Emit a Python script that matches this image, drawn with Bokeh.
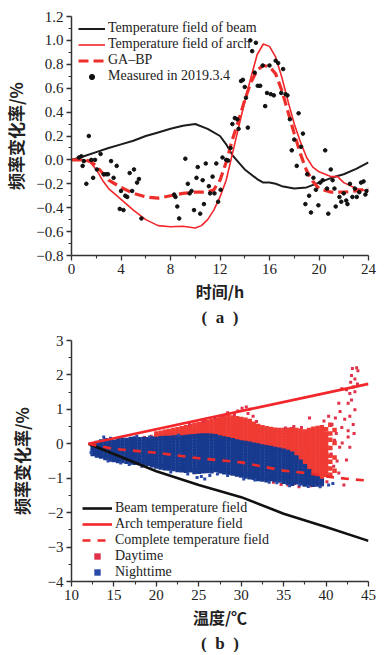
from bokeh.plotting import figure
from bokeh.layouts import column
from bokeh.models import Range1d, FixedTicker, CustomJSTickFormatter, Legend, LegendItem, Title
from bokeh.embed import file_html
from bokeh.resources import INLINE

SERIF = "Liberation Serif"
CJK = "Noto Sans CJK SC"

# ---------------- (a) data ----------------
beam_hours = [0, 1, 2, 3, 4, 5, 6, 7, 8, 9, 10, 11, 12, 12.5, 13, 13.5, 14, 15, 15.5, 16, 16.5, 17, 18, 19, 20, 21, 22, 23, 24]
beam_a = [0, 0.03, 0.065, 0.1, 0.13, 0.16, 0.2, 0.23, 0.26, 0.285, 0.30, 0.26, 0.2, 0.13, 0.04, -0.02, -0.08, -0.16, -0.19,
          -0.19, -0.2, -0.22, -0.24, -0.23, -0.19, -0.15, -0.12, -0.075, -0.02]

arch_hours = [0, 1, 1.5, 2, 2.5, 3, 4, 5, 6, 7, 8, 9, 10, 10.5, 11, 11.5, 12, 12.5, 13, 13.5, 14, 14.5, 15, 15.5, 16, 16.5,
              17, 17.5, 18, 18.5, 19, 19.5, 20, 21, 21.5, 22, 23, 24]
arch_a = [0, 0, -0.02, -0.08, -0.17, -0.24, -0.33, -0.42, -0.5, -0.55, -0.56, -0.555, -0.57, -0.55, -0.5, -0.42, -0.31,
          -0.17, 0.05, 0.27, 0.49, 0.69, 0.88, 0.97, 0.95, 0.86, 0.69, 0.49, 0.30, 0.15, 0.02, -0.06, -0.1, -0.14, -0.14,
          -0.19, -0.24, -0.26]

ga_hours = [0, 1, 1.5, 2, 2.5, 3, 4, 5, 6, 7, 8, 9, 10, 11, 11.5, 12, 12.5, 13, 13.5, 14, 14.5, 15, 15.5, 16, 16.5, 17,
            17.5, 18, 18.5, 19, 19.5, 20, 21, 22, 23, 24]
ga_bp = [0, 0, -0.01, -0.05, -0.11, -0.17, -0.23, -0.28, -0.31, -0.32, -0.3, -0.28, -0.27, -0.27, -0.25, -0.17, -0.02,
         0.17, 0.33, 0.5, 0.65, 0.75, 0.79, 0.78, 0.72, 0.58, 0.4, 0.22, 0.05, -0.09, -0.18, -0.24, -0.27, -0.27, -0.26,
         -0.24]

meas_t = [0.6, 0.8, 0.9, 1.0, 1.2, 1.4, 1.6, 1.75, 1.9, 2.05, 2.35, 2.6, 2.8, 2.95, 3.2, 3.4, 3.65, 3.9, 4.0, 4.2, 4.35,
          4.5, 4.7, 4.9, 5.05, 5.3, 5.45, 5.65, 8.3, 8.4, 8.55, 8.7, 9.2, 9.4, 9.55, 9.7, 9.9, 10.1, 10.2, 10.4, 10.6,
          10.7, 10.85, 11.1, 11.2, 11.4, 11.55, 11.7, 11.85, 12.05, 12.2, 12.5, 12.65, 12.85, 13.0, 13.2, 13.4, 13.5,
          13.7, 13.85, 14.0, 14.1, 14.25, 14.45, 14.6, 14.8, 14.9, 15.05, 15.25, 15.45, 15.65, 15.8, 16.0, 16.1, 16.35,
          16.5, 16.7, 16.95, 17.1, 17.3, 17.45, 17.65, 17.8, 18.0, 18.2, 18.35, 18.55, 18.7, 18.9, 19.05, 19.2, 19.35,
          19.55, 19.75, 19.95, 20.1, 20.3, 20.5, 20.65, 20.75, 20.95, 21.1, 21.25, 21.35, 21.65, 21.8, 22.0, 22.2, 22.3,
          22.5, 22.7, 22.9, 23.05, 23.25, 23.4, 23.6, 23.75, 23.85]
meas_v = [0.02, 0.03, -0.05, -0.01, -0.2, 0.2, 0.0, -0.15, 0.0, -0.08, 0.05, -0.12, -0.12, -0.12, -0.01, -0.15, -0.05,
          -0.41, -0.26, -0.42, -0.30, -0.31, -0.11, -0.26, -0.08, -0.19, -0.16, -0.49, -0.29, -0.31, -0.39, -0.49, 0.01,
          -0.2, -0.28, -0.26, -0.42, -0.15, -0.06, -0.45, -0.17, -0.37, -0.03, -0.22, -0.28, -0.14, -0.28, -0.03, -0.35,
          -0.25, 0.02, 0.0, -0.005, 0.1, 0.30, 0.35, 0.34, 0.26, 0.66, 0.67, 0.61, 0.52, 0.27, 1.0, 0.91, 0.73, 0.98,
          0.62, 0.62, 0.79, 0.45, 0.56, 0.79, 0.55, 0.54, 0.83, 0.81, 0.56, 0.76, 0.55, 0.54, 0.34, 0.08, 0.17, -0.05,
          0.39, 0.11, 0.22, -0.37, -0.12, -0.30, -0.44, -0.15, -0.25, -0.38, -0.19, -0.17, 0.08, -0.24, -0.45, -0.08,
          -0.17, -0.24, -0.39, -0.31, -0.35, -0.28, -0.34, -0.37, -0.2, -0.31, -0.24, -0.31, -0.27, -0.19, -0.18, -0.29,
          -0.26]

a_xticks = [0, 4, 8, 12, 16, 20, 24]
a_yticks = [-0.8, -0.6, -0.4, -0.2, 0.0, 0.2, 0.4, 0.6, 0.8, 1.0, 1.2]

# ---------------- (b) data ----------------
temp_lines = [12, 20, 25, 30, 35, 40, 45]
beam_b = [0, -0.8, -1.2, -1.55, -2.03, -2.42, -2.82]
arch_temp = [12, 45]
arch_b = [0, 1.74]
complete_temp = [12, 15, 20, 25, 30, 35, 38, 40, 43, 45]
complete_b = [0, -0.15, -0.26, -0.42, -0.54, -0.78, -0.86, -0.95, -1.03, -1.07]

# dense night-time cloud, read column by column (temperature: values)
night_cols = {
    12.5: [-0.03, -0.12, -0.21, -0.3],
    13: [0.02, -0.07, -0.16, -0.25, -0.34],
    13.5: [0.07, -0.02, -0.11, -0.2, -0.29, -0.37],
    14: [0.1, 0.01, -0.08, -0.17, -0.26, -0.35, -0.41],
    14.5: [0.05, -0.04, -0.13, -0.22, -0.31, -0.4, -0.46],
    15: [0.06, -0.03, -0.12, -0.21, -0.3, -0.39, -0.47],
    15.5: [0.1, 0.01, -0.08, -0.17, -0.26, -0.35, -0.44, -0.5],
    16: [0.12, 0.03, -0.06, -0.15, -0.24, -0.33, -0.42, -0.5],
    16.5: [0.11, 0.02, -0.07, -0.16, -0.25, -0.34, -0.43, -0.52],
    17: [0.14, 0.05, -0.04, -0.13, -0.22, -0.31, -0.4, -0.48, -0.54],
    17.5: [0.15, 0.06, -0.03, -0.12, -0.21, -0.3, -0.39, -0.48, -0.55],
    18: [0.13, 0.04, -0.05, -0.14, -0.23, -0.32, -0.41, -0.5, -0.56],
    18.5: [0.14, 0.05, -0.04, -0.13, -0.22, -0.31, -0.4, -0.49, -0.57],
    19: [0.13, 0.04, -0.05, -0.14, -0.23, -0.32, -0.41, -0.5, -0.58],
    19.5: [0.15, 0.06, -0.03, -0.12, -0.21, -0.3, -0.39, -0.48, -0.56, -0.62],
    20: [0.14, 0.05, -0.04, -0.13, -0.22, -0.31, -0.4, -0.49, -0.58, -0.66],
    20.5: [0.16, 0.07, -0.02, -0.11, -0.2, -0.29, -0.38, -0.47, -0.56, -0.64, -0.69],
    21: [0.17, 0.08, -0.01, -0.1, -0.19, -0.28, -0.37, -0.46, -0.55, -0.63, -0.71],
    21.5: [0.17, 0.08, -0.01, -0.1, -0.19, -0.28, -0.37, -0.46, -0.55, -0.64, -0.72],
    22: [0.18, 0.09, 0.0, -0.09, -0.18, -0.27, -0.36, -0.45, -0.54, -0.63, -0.73],
    22.5: [0.19, 0.1, 0.01, -0.08, -0.17, -0.26, -0.35, -0.44, -0.53, -0.62, -0.7, -0.76],
    23: [0.18, 0.09, 0.0, -0.09, -0.18, -0.27, -0.36, -0.45, -0.54, -0.63, -0.71, -0.77],
    23.5: [0.2, 0.11, 0.02, -0.07, -0.16, -0.25, -0.34, -0.43, -0.52, -0.61, -0.7, -0.78],
    24: [0.21, 0.12, 0.03, -0.06, -0.15, -0.24, -0.33, -0.42, -0.51, -0.6, -0.69, -0.77],
    24.5: [0.22, 0.13, 0.04, -0.05, -0.14, -0.23, -0.32, -0.41, -0.5, -0.59, -0.68, -0.76, -0.82],
    25: [0.23, 0.14, 0.05, -0.04, -0.13, -0.22, -0.31, -0.4, -0.49, -0.58, -0.67, -0.75, -0.81],
    25.5: [0.24, 0.15, 0.06, -0.03, -0.12, -0.21, -0.3, -0.39, -0.48, -0.57, -0.66, -0.74, -0.8],
    26: [0.24, 0.15, 0.06, -0.03, -0.12, -0.21, -0.3, -0.39, -0.48, -0.57, -0.66, -0.73, -0.79],
    26.5: [0.23, 0.14, 0.05, -0.04, -0.13, -0.22, -0.31, -0.4, -0.49, -0.58, -0.67, -0.74, -0.8],
    27: [0.22, 0.13, 0.04, -0.05, -0.14, -0.23, -0.32, -0.41, -0.5, -0.59, -0.68, -0.76],
    27.5: [0.18, 0.09, 0.0, -0.09, -0.18, -0.27, -0.36, -0.45, -0.54, -0.63, -0.72, -0.8],
    28: [0.15, 0.06, -0.03, -0.12, -0.21, -0.3, -0.39, -0.48, -0.57, -0.66, -0.75, -0.83],
    28.5: [0.13, 0.04, -0.05, -0.14, -0.23, -0.32, -0.41, -0.5, -0.59, -0.68, -0.77, -0.84],
    29: [0.1, 0.01, -0.08, -0.17, -0.26, -0.35, -0.44, -0.53, -0.62, -0.71, -0.8, -0.86],
    29.5: [0.07, -0.02, -0.11, -0.2, -0.29, -0.38, -0.47, -0.56, -0.65, -0.74, -0.83, -0.89],
    30: [0.04, -0.05, -0.14, -0.23, -0.32, -0.41, -0.5, -0.59, -0.68, -0.77, -0.86, -0.92],
    30.5: [0.02, -0.07, -0.16, -0.25, -0.34, -0.43, -0.52, -0.61, -0.7, -0.79, -0.88, -0.95],
    31: [0.0, -0.09, -0.18, -0.27, -0.36, -0.45, -0.54, -0.63, -0.72, -0.81, -0.9, -0.97],
    31.5: [-0.03, -0.12, -0.21, -0.3, -0.39, -0.48, -0.57, -0.66, -0.75, -0.84, -0.93, -0.99],
    32: [-0.05, -0.14, -0.23, -0.32, -0.41, -0.5, -0.59, -0.68, -0.77, -0.86, -0.95, -1.02],
    32.5: [-0.08, -0.17, -0.26, -0.35, -0.44, -0.53, -0.62, -0.71, -0.8, -0.89, -0.98, -1.04],
    33: [-0.1, -0.19, -0.28, -0.37, -0.46, -0.55, -0.64, -0.73, -0.82, -0.91, -1.0, -1.06],
    33.5: [-0.12, -0.21, -0.3, -0.39, -0.48, -0.57, -0.66, -0.75, -0.84, -0.93, -1.02],
    34: [-0.15, -0.24, -0.33, -0.42, -0.51, -0.6, -0.69, -0.78, -0.87, -0.96, -1.05],
    34.5: [-0.17, -0.26, -0.35, -0.44, -0.53, -0.62, -0.71, -0.8, -0.89, -0.98, -1.07],
    35: [-0.2, -0.29, -0.38, -0.47, -0.56, -0.65, -0.74, -0.83, -0.92, -1.01, -1.1],
    35.5: [-0.24, -0.33, -0.42, -0.51, -0.6, -0.69, -0.78, -0.87, -0.96, -1.05, -1.13],
    36: [-0.29, -0.38, -0.47, -0.56, -0.65, -0.74, -0.83, -0.92, -1.01, -1.1, -1.16],
    36.5: [-0.4, -0.49, -0.58, -0.67, -0.76, -0.85, -0.94, -1.03, -1.12],
    37: [-0.52, -0.61, -0.7, -0.79, -0.88, -0.97, -1.06, -1.14],
    37.5: [-0.65, -0.74, -0.83, -0.92, -1.01, -1.1, -1.18],
    38: [-0.8, -0.89, -0.98, -1.07, -1.16],
    38.5: [-0.92, -1.01, -1.1, -1.19],
    39: [-1.0, -1.09, -1.18],
    39.5: [-1.08, -1.17],
}
# scattered night-time points at the cloud's edges
night_edge_t = [12.3, 13.8, 14.3, 14.6, 15.8, 16.8, 17.7, 18.3, 19.2, 21.7, 22.6, 23.7, 24.8, 25.3, 25.7, 26.3, 27.2,
                28.4, 30.3, 31.6, 33.3, 34.2, 35.7, 36.9, 37.9, 39.3, 40.3, 40.8]
night_edge_v = [-0.25, 0.2, -0.5, 0.16, -0.56, -0.6, 0.22, -0.65, 0.2, -0.82, 0.25, -0.88, -0.98, -0.95, -1.02, -0.92,
                -0.88, -0.92, -1.02, -1.05, -1.12, -1.13, -1.22, -1.2, -1.24, -1.25, -1.2, -1.15]

# dense day-time cloud (visible part above the night-time cloud)
day_cols = {
    20: [0.3, 0.22, 0.15],
    20.5: [0.32, 0.24, 0.17],
    21: [0.35, 0.27, 0.19],
    21.5: [0.37, 0.29, 0.21],
    22: [0.4, 0.32, 0.24, 0.18],
    22.5: [0.42, 0.34, 0.26, 0.19],
    23: [0.45, 0.37, 0.29, 0.21],
    23.5: [0.48, 0.4, 0.32, 0.24],
    24: [0.52, 0.44, 0.36, 0.28, 0.22],
    24.5: [0.55, 0.47, 0.39, 0.31, 0.24],
    25: [0.57, 0.49, 0.41, 0.33, 0.25],
    25.5: [0.6, 0.52, 0.44, 0.36, 0.28],
    26: [0.63, 0.55, 0.47, 0.39, 0.31, 0.25],
    26.5: [0.66, 0.58, 0.5, 0.42, 0.34, 0.27],
    27: [0.68, 0.6, 0.52, 0.44, 0.36, 0.3, 0.24],
    27.5: [0.72, 0.64, 0.56, 0.48, 0.4, 0.32, 0.24, 0.2],
    28: [0.76, 0.68, 0.6, 0.52, 0.44, 0.36, 0.28, 0.2, 0.17],
    28.5: [0.77, 0.69, 0.61, 0.53, 0.45, 0.37, 0.29, 0.21, 0.14],
    29: [0.76, 0.68, 0.6, 0.52, 0.44, 0.36, 0.28, 0.2, 0.12],
    29.5: [0.74, 0.66, 0.58, 0.5, 0.42, 0.34, 0.26, 0.18, 0.1],
    30: [0.72, 0.64, 0.56, 0.48, 0.4, 0.32, 0.24, 0.16, 0.08, 0.03],
    30.5: [0.7, 0.62, 0.54, 0.46, 0.38, 0.3, 0.22, 0.14, 0.06, 0.02],
    31: [0.66, 0.58, 0.5, 0.42, 0.34, 0.26, 0.18, 0.1, 0.03, -0.01],
    31.5: [0.58, 0.5, 0.42, 0.34, 0.26, 0.18, 0.1, 0.02, -0.04],
    32: [0.52, 0.44, 0.36, 0.28, 0.2, 0.12, 0.04, -0.04],
    32.5: [0.48, 0.4, 0.32, 0.24, 0.16, 0.08, 0.0, -0.08],
    33: [0.45, 0.37, 0.29, 0.21, 0.13, 0.05, -0.03, -0.1],
    33.5: [0.43, 0.35, 0.27, 0.19, 0.11, 0.03, -0.05, -0.12],
    34: [0.41, 0.33, 0.25, 0.17, 0.09, 0.01, -0.07, -0.14],
    34.5: [0.4, 0.32, 0.24, 0.16, 0.08, 0.0, -0.08, -0.16],
    35: [0.4, 0.32, 0.24, 0.16, 0.08, 0.0, -0.08, -0.16, -0.2],
    35.5: [0.41, 0.33, 0.25, 0.17, 0.09, 0.01, -0.07, -0.15, -0.23],
    36: [0.42, 0.34, 0.26, 0.18, 0.1, 0.02, -0.06, -0.14, -0.22, -0.3],
    36.5: [0.4, 0.32, 0.24, 0.16, 0.08, 0.0, -0.08, -0.16, -0.24, -0.32, -0.4],
    37: [0.38, 0.3, 0.22, 0.14, 0.06, -0.02, -0.1, -0.18, -0.26, -0.34, -0.42, -0.5],
    37.5: [0.36, 0.28, 0.2, 0.12, 0.04, -0.04, -0.12, -0.2, -0.28, -0.36, -0.44, -0.52, -0.6],
    38: [0.4, 0.32, 0.24, 0.16, 0.08, 0.0, -0.08, -0.16, -0.24, -0.32, -0.4, -0.48, -0.56, -0.64, -0.72, -0.8],
    38.5: [0.44, 0.36, 0.28, 0.2, 0.12, 0.04, -0.04, -0.12, -0.2, -0.28, -0.36, -0.44, -0.52, -0.6, -0.68, -0.76,
           -0.84, -0.92],
    39: [0.46, 0.38, 0.3, 0.22, 0.14, 0.06, -0.02, -0.1, -0.18, -0.26, -0.34, -0.42, -0.5, -0.58, -0.66, -0.74,
         -0.82, -0.9, -0.98],
    39.5: [0.48, 0.4, 0.32, 0.24, 0.16, 0.08, 0.0, -0.08, -0.16, -0.24, -0.32, -0.4, -0.48, -0.56, -0.64, -0.72,
           -0.8, -0.88, -0.96, -1.04],
    40: [0.42, 0.3, 0.2, 0.1, 0.0, -0.1, -0.2, -0.3, -0.4, -0.5, -0.6, -0.7, -0.8, -0.9],
    40.5: [0.55, 0.3, 0.12, -0.12, -0.35, -0.52, -0.72, -0.9],
    41: [0.4, 0.02, -0.4, -0.78],
}
# scattered day-time points
day_edge_t = [43.1, 43.6, 43.75, 43.0, 43.4, 42.9, 43.7, 43.2, 42.4, 41.85, 42.8, 43.4, 43.0, 42.6, 43.4, 41.5, 41.65,
              42.8, 42.2, 41.1, 40.7, 43.2, 41.85, 42.6, 38.05, 39.75, 40.3, 41.2, 41.6, 41.9, 42.4, 42.8, 41.5, 42.1,
              41.3, 42.6, 43.3, 40.6, 40.9, 41.0, 40.5, 28.4, 29.6, 30.1, 30.6, 31.0, 30.8, 29.2, 27.8, 26.9, 31.4,
              31.8, 25.6, 23.9, 35.5, 36.3, 36.8, 37.4, 38.2, 38.8, 39.4, 40.1, 33.8, 34.7, 14.2, 15.6, 17.1, 18.6,
              19.4, 36.2, 37.1, 35.2]
day_edge_v = [2.19, 2.21, 2.12, 1.98, 1.88, 1.79, 1.74, 1.65, 1.57, 1.6, 1.46, 1.51, 1.27, 1.18, 0.99, 1.18, 0.94,
              0.8, 0.71, 0.75, 0.56, 0.56, 0.47, 0.38, 0.75, 0.66, 0.8, 0.3, -0.1, 0.02, -0.47, -0.1, -0.85, -1.2,
              -0.5, 0.2, 0.3, -0.3, -0.65, 0.1, -0.95, 0.9, 0.95, 1.03, 1.07, 1.0, 0.88, 0.85, 0.82, 0.75, 0.8, 0.65,
              0.66, 0.56, -1.2, -1.15, -1.25, -1.18, -1.22, -1.12, -1.2, -1.1, -1.12, -1.18, -0.05, -0.12, 0.1, 0.18,
              0.22, 0.5, 0.47, 0.46]

b_xticks = [10, 15, 20, 25, 30, 35, 40, 45]
b_yticks = [-4, -3, -2, -1, 0, 1, 2, 3]

night_t = [t for t, vs in night_cols.items() for _ in vs]
night_v = [v for vs in night_cols.values() for v in vs]
day_t = [t for t, vs in day_cols.items() for _ in vs]
day_v = [v for vs in day_cols.values() for v in vs]


def style_axes(p, xlabel, ylabel, xt, yt, ydigits):
    p.outline_line_color = None
    p.grid.visible = False
    p.background_fill_color = "white"
    p.border_fill_color = "white"
    for ax in (p.xaxis[0], p.yaxis[0]):
        ax.axis_line_color = "#333333"
        ax.axis_line_width = 1.5
        ax.major_tick_line_color = "#333333"
        ax.major_tick_line_width = 1.3
        ax.minor_tick_line_color = "#333333"
        ax.minor_tick_line_width = 1.1
        ax.major_tick_in = 0
        ax.major_tick_out = 5
        ax.minor_tick_in = 0
        ax.minor_tick_out = 3
        ax.major_label_text_font = SERIF
        ax.major_label_text_font_size = "15px"
        ax.major_label_text_color = "#222222"
        ax.major_label_standoff = 3
        ax.axis_label_text_font = CJK
        ax.axis_label_text_font_style = "bold"
        ax.axis_label_text_font_size = "16px"
        ax.axis_label_text_color = "#222222"
    p.yaxis[0].axis_label_text_font_size = "17px"
    minor_x = [(a + b) / 2 for a, b in zip(xt[:-1], xt[1:])]
    minor_y = [(a + b) / 2 for a, b in zip(yt[:-1], yt[1:])]
    p.xaxis[0].ticker = FixedTicker(ticks=xt, minor_ticks=minor_x)
    p.yaxis[0].ticker = FixedTicker(ticks=yt, minor_ticks=minor_y)
    p.xaxis[0].axis_label = xlabel
    p.yaxis[0].axis_label = ylabel
    p.xaxis[0].axis_label_standoff = 2
    p.yaxis[0].axis_label_standoff = 5
    p.yaxis[0].formatter = CustomJSTickFormatter(
        code="return tick.toFixed(%d).replace('-', '\\u2212')" % ydigits)
    p.xaxis[0].formatter = CustomJSTickFormatter(code="return tick.toFixed(0)")


# ---------------- figure (a) ----------------
pa = figure(width=387, height=326, x_range=Range1d(0, 24), y_range=Range1d(-0.8, 1.2),
            output_backend="svg", toolbar_location=None,
            min_border_left=70, min_border_right=19, min_border_top=16, min_border_bottom=70)
style_axes(pa, "时间/h", "频率变化率/%", a_xticks, a_yticks, 1)

r_beam = pa.line(beam_hours, beam_a, line_color="#1c1c1c", line_width=2)
r_arch = pa.line(arch_hours, arch_a, line_color="#f2262b", line_width=1.6)
r_ga = pa.line(ga_hours, ga_bp, line_color="#ee2e2a", line_width=3.2, line_dash="10 5")
r_meas = pa.scatter(meas_t, meas_v, size=3.6, marker="circle", fill_color="#111111", line_color="#111111")

leg_a = Legend(items=[
    LegendItem(label="Temperature field of beam", renderers=[r_beam]),
    LegendItem(label="Temperature field of arch", renderers=[r_arch]),
    LegendItem(label="GA\u2013BP", renderers=[r_ga]),
    LegendItem(label="Measured in 2019.3.4", renderers=[r_meas]),
], location=(7, 171), margin=0, padding=0, spacing=0, glyph_width=27, glyph_height=13, label_height=13,
    label_standoff=3, label_text_font=SERIF, label_text_font_size="14px", label_text_color="#222222",
    border_line_alpha=0, background_fill_alpha=0)
pa.add_layout(leg_a)
pa.add_layout(Title(text="(\u2002a\u2002)", align="center", text_font=SERIF, text_font_size="17px",
                    text_font_style="bold", text_color="#222222", standoff=0), "below")

# ---------------- figure (b) ----------------
pb = figure(width=387, height=326, x_range=Range1d(10, 45), y_range=Range1d(-4, 3),
            output_backend="svg", toolbar_location=None,
            min_border_left=71, min_border_right=10, min_border_top=14, min_border_bottom=70)
style_axes(pb, "温度/℃", "频率变化率/%", b_xticks, b_yticks, 0)
pb.yaxis[0].axis_label_standoff = 11

r_day = pb.scatter(day_t, day_v, size=4.5, marker="square", fill_color="#ef3b33", line_color=None)
r_day_edge = pb.scatter(day_edge_t, day_edge_v, size=3, marker="square", fill_color="#e0304a", line_color=None)
r_night = pb.scatter(night_t, night_v, size=4.5, marker="square", fill_color="#173a8e", line_color=None)
r_night_edge = pb.scatter(night_edge_t, night_edge_v, size=3, marker="square", fill_color="#2a4aa8", line_color=None)
r_bb = pb.line(temp_lines, beam_b, line_color="#111111", line_width=2.6)
r_ab = pb.line(arch_temp, arch_b, line_color="#f2262b", line_width=2.6)
r_cb = pb.line(complete_temp, complete_b, line_color="#ef2a2a", line_width=2.6, line_dash="8 7")

leg_b = Legend(items=[
    LegendItem(label="Beam temperature field", renderers=[r_bb]),
    LegendItem(label="Arch temperature field", renderers=[r_ab]),
    LegendItem(label="Complete temperature field", renderers=[r_cb]),
    LegendItem(label="Daytime", renderers=[r_day_edge]),
    LegendItem(label="Nighttime", renderers=[r_night_edge]),
], location=(11, 1), margin=0, padding=0, spacing=0, glyph_width=30, glyph_height=16, label_height=16,
    label_standoff=3, label_text_font=SERIF, label_text_font_size="14px", label_text_color="#222222",
    border_line_alpha=0, background_fill_alpha=0)
pb.add_layout(leg_b)
pb.add_layout(Title(text="(\u2002b\u2002)", align="center", text_font=SERIF, text_font_size="17px",
                    text_font_style="bold", text_color="#222222", standoff=0), "below")

layout = column(pa, pb, spacing=0)
open("out.html", "w").write(file_html(layout, INLINE))
